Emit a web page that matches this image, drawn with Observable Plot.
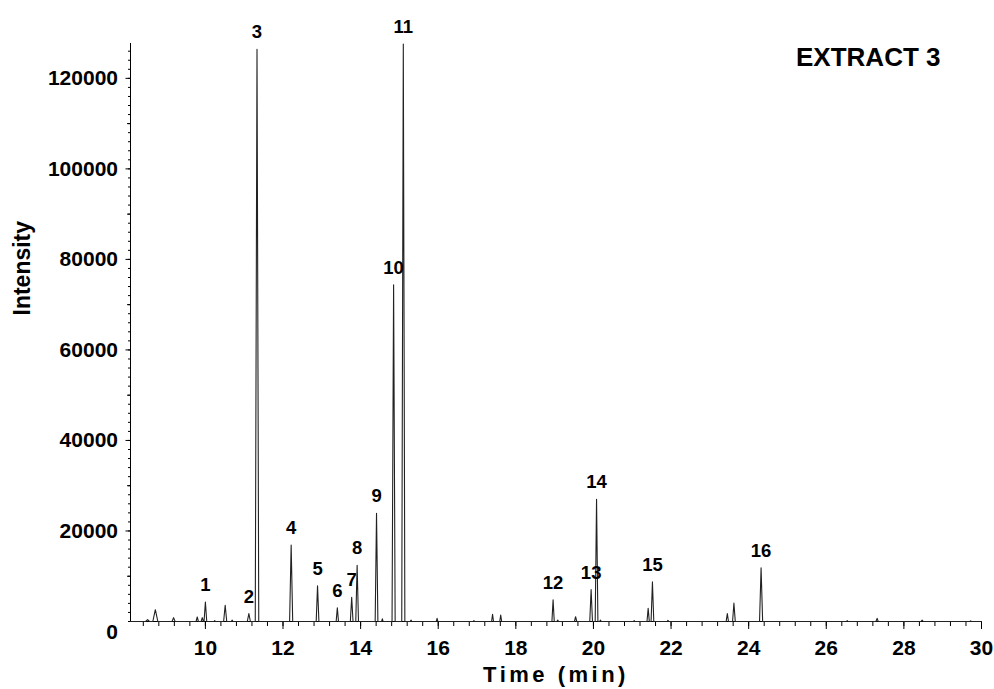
<!DOCTYPE html>
<html><head><meta charset="utf-8">
<script src="https://cdn.jsdelivr.net/npm/d3@7"></script>
<script src="https://cdn.jsdelivr.net/npm/@observablehq/plot@0.6"></script>
<style>body{margin:0;background:#fff;}</style>
</head><body><div id="chart"></div>
<script>
// Chromatogram peaks (retention time in min, intensity, half-width at base in min)
const peakTime = [8.51, 8.71, 9.18, 9.79, 9.92, 10.00, 10.24, 10.51, 10.69, 11.12, 11.33, 12.21, 12.89, 13.40, 13.77, 13.91, 14.41, 14.56, 14.85, 15.10, 15.30, 15.97, 16.92, 17.40, 17.61, 18.96, 19.08, 19.54, 19.94, 20.08, 20.18, 21.05, 21.41, 21.52, 21.92, 23.45, 23.62, 24.32, 26.54, 27.31, 28.47, 29.72];
const peakHeight = [400, 2600, 850, 1000, 850, 4300, 200, 3600, 300, 1750, 126400, 16900, 7900, 3050, 5350, 12400, 23900, 600, 74400, 127600, 300, 700, 200, 1600, 1400, 4800, 300, 1050, 7050, 27000, 300, 200, 2900, 8750, 250, 1750, 4050, 11850, 200, 700, 300, 150];
const peakHalfWidth = [0.05, 0.065, 0.04, 0.03, 0.03, 0.035, 0.02, 0.04, 0.02, 0.04, 0.045, 0.04, 0.035, 0.03, 0.035, 0.035, 0.035, 0.02, 0.04, 0.04, 0.02, 0.02, 0.02, 0.025, 0.025, 0.03, 0.02, 0.03, 0.035, 0.035, 0.02, 0.02, 0.03, 0.035, 0.02, 0.03, 0.035, 0.04, 0.02, 0.03, 0.03, 0.02];
const peakLabel = ["", "", "", "", "", "1", "", "", "", "2", "3", "4", "5", "6", "7", "8", "9", "", "10", "11", "", "", "", "", "", "12", "", "", "13", "14", "", "", "", "15", "", "", "", "16", "", "", "", ""];

const xMajorTicks = [10, 12, 14, 16, 18, 20, 22, 24, 26, 28, 30];
const xMinorTicks = d3.range(21, 76).map(i => +(i * 0.4).toFixed(1));
const yMajorTicks = [20000, 40000, 60000, 80000, 100000, 120000];
const yMidTicks = [10000, 30000, 50000, 70000, 90000, 110000];
const yMinorTicks = d3.range(0, 64).map(i => i * 2000);
const zeroTick = [0];

const titleText = "EXTRACT 3";
const xTitle = "Time (min)";
const yTitle = "Intensity";
const xDomain = [8.07, 30];
const yDomain = [0, 127700];

// Build trace: flat baseline with a narrow peak at each retention time
const trace = [{t: xDomain[0], v: 0}];
peakTime.forEach((t, i) => {
  trace.push({t: t - peakHalfWidth[i], v: 0}, {t, v: peakHeight[i]}, {t: t + peakHalfWidth[i], v: 0});
});
trace.push({t: xDomain[1], v: 0});
const labels = peakTime.map((t, i) => ({t, v: peakHeight[i], label: peakLabel[i]})).filter(d => d.label);

const bold = {fontWeight: "bold"};
const chart = Plot.plot({
  width: 994,
  height: 689,
  marginTop: 43,
  marginRight: 13,
  marginBottom: 68,
  marginLeft: 130,
  style: {fontFamily: "'Liberation Sans', Arial, sans-serif", color: "#000", background: "#fff"},
  x: {domain: xDomain},
  y: {domain: yDomain},
  marks: [
    Plot.axisX(xMinorTicks, {tickSize: 5, fill: "none", stroke: "#000", label: null}),
    Plot.axisX(xMajorTicks, {tickSize: 8, tickPadding: 11, fontSize: 21, ...bold, tickFormat: d => String(d), label: null}),
    Plot.axisY(yMinorTicks, {tickSize: 2, fill: "none", stroke: "#000", label: null}),
    Plot.axisY(yMidTicks, {tickSize: 3, fill: "none", stroke: "#000", label: null}),
    Plot.axisY(yMajorTicks, {tickSize: 4.5, tickPadding: 8, fontSize: 21, ...bold, tickFormat: d => String(d), label: null}),
    Plot.axisY(zeroTick, {stroke: "none", tickSize: 4.5, tickPadding: 8, dy: 11, fontSize: 21, ...bold, tickFormat: d => String(d), label: null}),
    Plot.ruleX([xDomain[0]], {stroke: "#000"}),
    Plot.ruleY([0], {stroke: "#000"}),
    Plot.line(trace, {x: "t", y: "v", stroke: "#222", strokeWidth: 1.1}),
    Plot.text(labels, {x: "t", y: "v", text: "label", dy: -17, fontSize: 18.5, ...bold}),
    Plot.text([titleText], {frameAnchor: "top-right", textAnchor: "end", lineAnchor: "middle", dx: -41, dy: 14, fontSize: 26, ...bold}),
    Plot.text([xTitle], {frameAnchor: "bottom", lineAnchor: "middle", dy: 53, fontSize: 22, ...bold}),
    Plot.text([yTitle], {frameAnchor: "left", lineAnchor: "middle", dx: -108, dy: -17, rotate: -90, fontSize: 23, ...bold})
  ]
});
document.getElementById("chart").append(chart);
d3.select(chart).selectAll("text").filter(function() { return this.textContent === xTitle; }).attr("letter-spacing", 3.5);
</script>
</body></html>
